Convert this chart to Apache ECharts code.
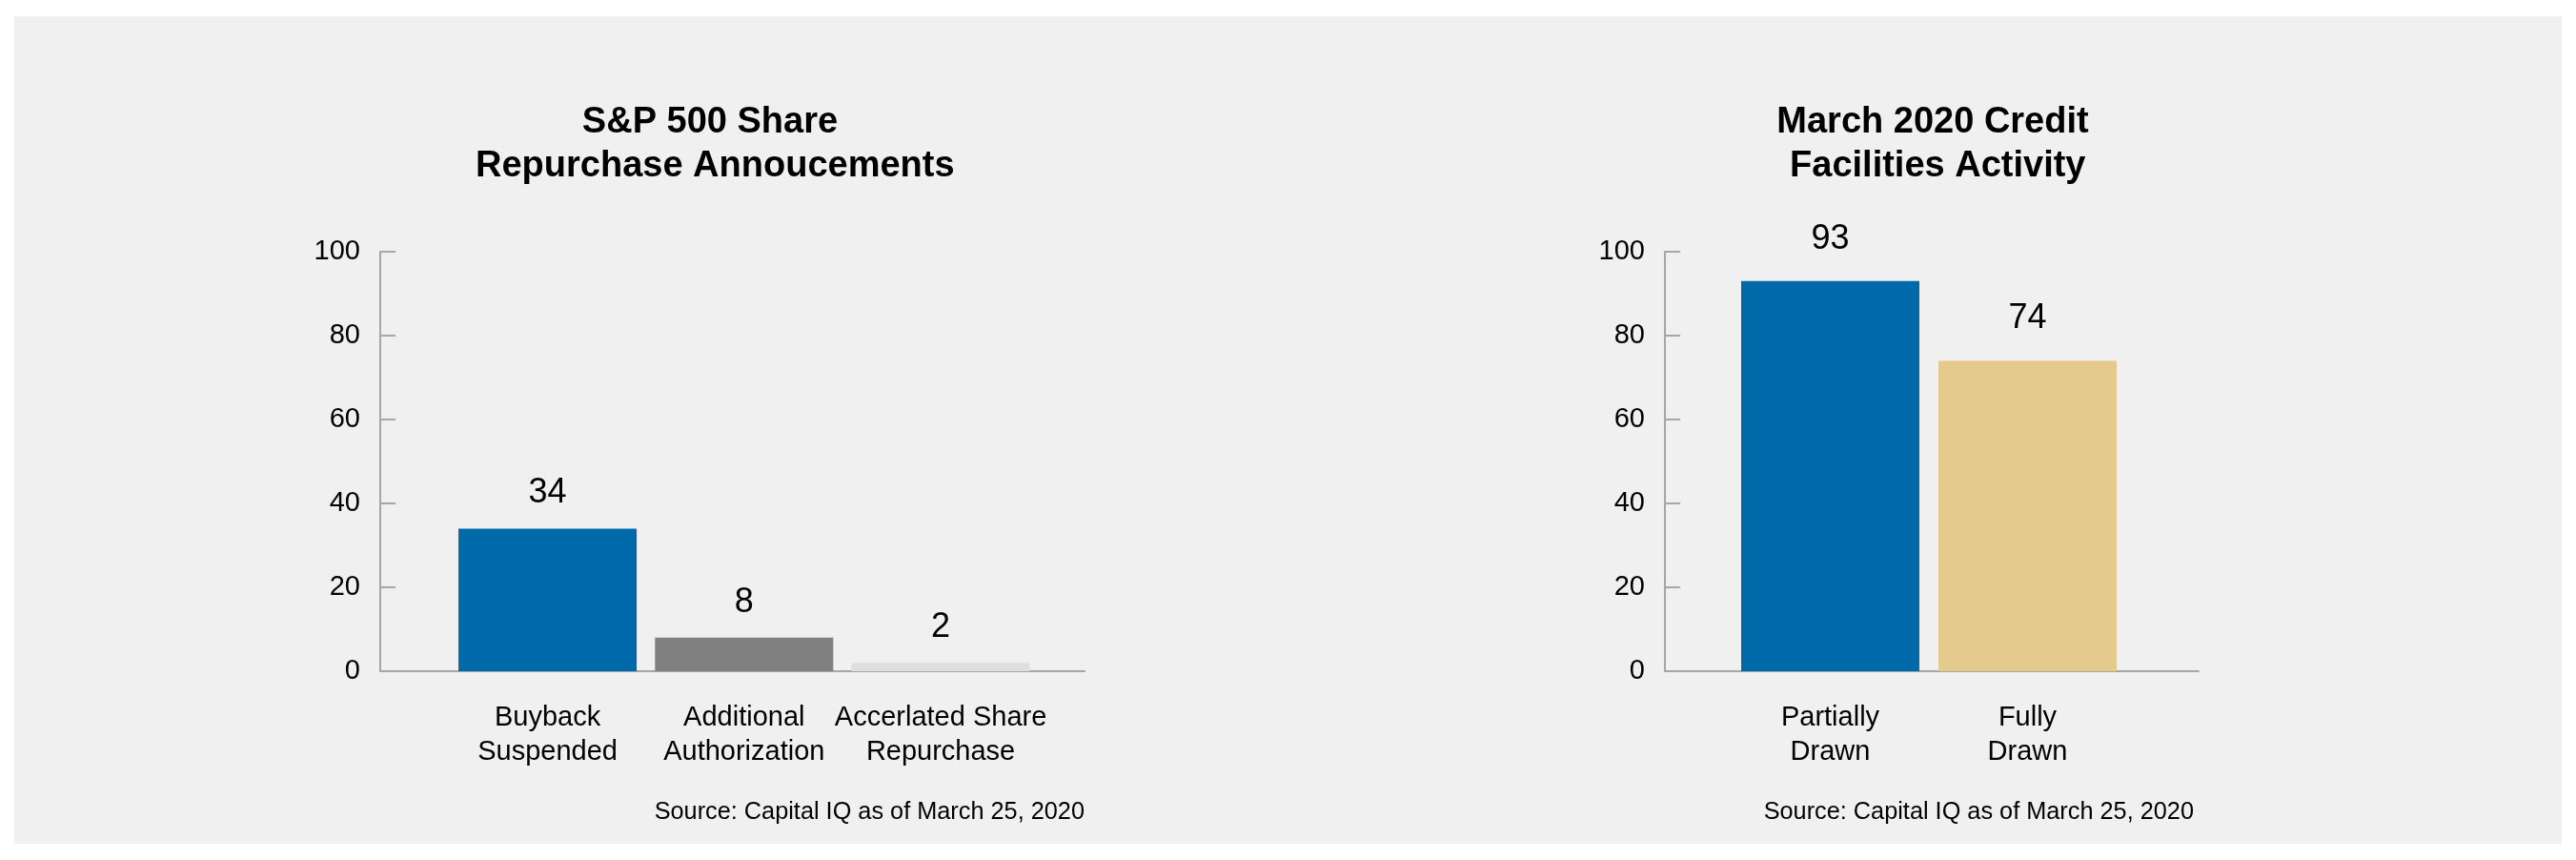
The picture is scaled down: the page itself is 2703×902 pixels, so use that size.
<!DOCTYPE html>
<html>
<head>
<meta charset="utf-8">
<script src="https://cdn.jsdelivr.net/npm/echarts@6/dist/echarts.min.js"></script>
<style>
  html, body { margin: 0; padding: 0; background: #ffffff; }
  #panel { position: absolute; left: 15px; top: 17px; width: 2673px; height: 868px; background: #f0f0f0; }
  #chart { position: absolute; left: 0; top: 0; width: 2703px; height: 902px; }
</style>
</head>
<body>
<div id="panel"></div>
<div id="chart"></div>
<script>
// Share repurchase announcements (left panel)
const buybackCategories = ['Buyback\nSuspended', 'Additional\nAuthorization', 'Accerlated Share\nRepurchase'];
const buybackValues = [34, 8, 2];
const buybackColors = ['#0069aa', '#808080', '#dedede'];

// Credit facilities activity (right panel)
const creditCategories = ['Partially\nDrawn', 'Fully\nDrawn'];
const creditValues = [93, 74];
const creditColors = ['#0069aa', '#e4ca8d'];

// Shared value-axis scale
const yMin = 0, yMax = 100, yStep = 20;

const titleLeft = 'S&P 500 Share\n Repurchase Annoucements';
const titleRight = 'March 2020 Credit\n Facilities Activity';
const sourceText = 'Source: Capital IQ as of March 25, 2020';

const FONT = "'Liberation Sans', Arial, Helvetica, sans-serif";
const AXIS_GREY = '#a6a6a6';

const chart = echarts.init(document.getElementById('chart'), null, { renderer: 'canvas' });

// Each panel uses two grids sharing the same vertical extent:
// a frame grid (y axis + full-length baseline) and a bar grid (category bands).
const TOP = 264, HEIGHT = 440;
const panels = [
  { frameLeft: 399, frameWidth: 739, barLeft: 471.4, barWidth: 618.8,
    cats: buybackCategories, vals: buybackValues, colors: buybackColors, labelDist: 19 },
  { frameLeft: 1747, frameWidth: 560, barLeft: 1817, barWidth: 414,
    cats: creditCategories, vals: creditValues, colors: creditColors, labelDist: 26 }
];

const grid = [], xAxis = [], yAxis = [], series = [];
panels.forEach((p) => {
  const gFrame = grid.length;
  grid.push({ left: p.frameLeft, top: TOP, width: p.frameWidth, height: HEIGHT, containLabel: false });
  const gBar = grid.length;
  grid.push({ left: p.barLeft, top: TOP, width: p.barWidth, height: HEIGHT, containLabel: false });

  // frame: baseline across the whole plot width
  xAxis.push({
    gridIndex: gFrame, type: 'value', min: 0, max: 1,
    axisLine: { show: true, onZero: false, lineStyle: { color: AXIS_GREY, width: 2 } },
    axisTick: { show: false }, axisLabel: { show: false }, splitLine: { show: false }
  });
  yAxis.push({
    gridIndex: gFrame, type: 'value', min: yMin, max: yMax, interval: yStep,
    axisLine: { show: true, onZero: false, lineStyle: { color: AXIS_GREY, width: 2 } },
    axisTick: { show: true, inside: true, length: 16, lineStyle: { color: AXIS_GREY, width: 2 } },
    axisLabel: { color: '#000', fontFamily: FONT, fontSize: 29, margin: 21 },
    splitLine: { show: false }
  });

  // bars: category bands with labels underneath
  const xb = xAxis.length;
  xAxis.push({
    gridIndex: gBar, type: 'category', data: p.cats,
    axisLine: { show: false }, axisTick: { show: false },
    axisLabel: { color: '#000', fontFamily: FONT, fontSize: 29, lineHeight: 36, margin: 31, interval: 0 }
  });
  const yb = yAxis.length;
  yAxis.push({
    gridIndex: gBar, type: 'value', min: yMin, max: yMax, interval: yStep, show: false
  });

  series.push({
    type: 'bar', xAxisIndex: xb, yAxisIndex: yb,
    barWidth: 187,
    data: p.vals.map((v, k) => ({ value: v, itemStyle: { color: p.colors[k] } })),
    label: {
      show: true, position: 'top', distance: p.labelDist,
      color: '#000', fontFamily: FONT, fontSize: 36
    },
    silent: true, animation: false
  });
});

const titleStyle = { color: '#000', fontFamily: FONT, fontSize: 38, fontWeight: 'bold', lineHeight: 46 };
const sourceStyle = { color: '#000', fontFamily: FONT, fontSize: 25.3, fontWeight: 'normal', lineHeight: 30 };

chart.setOption({
  backgroundColor: 'transparent',
  animation: false,
  title: [
    { text: titleLeft, left: 745, top: 106, textAlign: 'center', padding: 0, textStyle: titleStyle },
    { text: titleRight, left: 2028, top: 106, textAlign: 'center', padding: 0, textStyle: titleStyle },
    { text: sourceText, left: 1138, top: 837, textAlign: 'right', padding: 0, textStyle: sourceStyle },
    { text: sourceText, left: 2302, top: 837, textAlign: 'right', padding: 0, textStyle: sourceStyle }
  ],
  grid, xAxis, yAxis, series
});
</script>
</body>
</html>
